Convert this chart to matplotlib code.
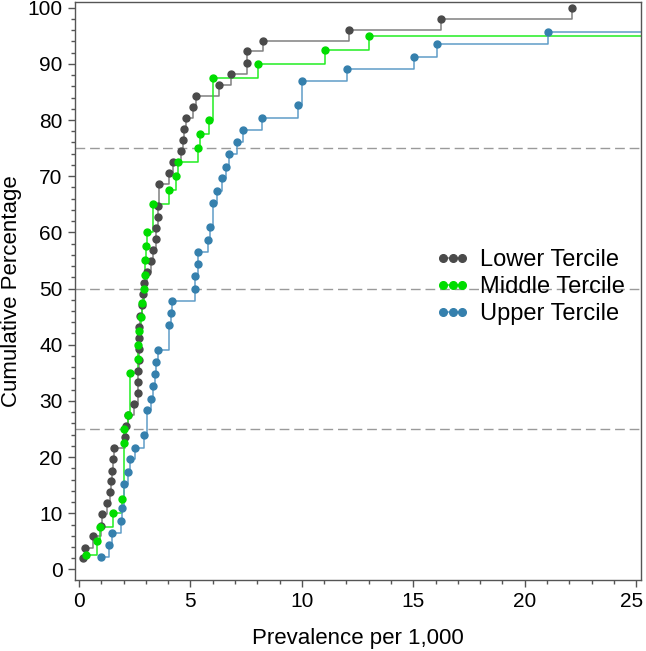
import matplotlib
matplotlib.use('Agg')
import matplotlib.pyplot as plt
from matplotlib.lines import Line2D
from matplotlib.ticker import MultipleLocator
from matplotlib.transforms import ScaledTranslation

plt.rcParams['font.family'] = ['Liberation Sans', 'DejaVu Sans']

# 数据：各三分位组的患病率（每千人）与累计百分比
lower_x = [0.19, 0.25, 0.61, 0.99, 1.02, 1.27, 1.40, 1.45, 1.46, 1.54,
           1.58, 2.07, 2.10, 2.18, 2.47, 2.63, 2.64, 2.66, 2.67, 2.68,
           2.69, 2.71, 2.74, 2.82, 2.85, 2.90, 3.04, 3.23, 3.31, 3.45,
           3.47, 3.53, 3.54, 3.60, 4.04, 4.20, 4.58, 4.65, 4.71, 4.82,
           5.13, 5.24, 6.28, 6.82, 7.54, 7.55, 8.27, 12.13, 16.23, 22.11]
lower_y = [2.0, 3.9, 5.9, 7.8, 9.8, 11.8, 13.7, 15.7, 17.6, 19.6,
           21.6, 23.5, 25.5, 27.5, 29.4, 31.4, 33.3, 35.3, 37.3, 39.2,
           41.2, 43.1, 45.1, 47.1, 49.0, 51.0, 52.9, 54.9, 56.9, 58.8,
           60.8, 62.7, 64.7, 68.6, 70.6, 72.5, 74.5, 76.5, 78.4, 80.4,
           82.4, 84.3, 86.3, 88.2, 90.2, 92.2, 94.1, 96.1, 98.0, 100.0]

middle_x = [0.31, 0.82, 0.96, 1.51, 1.92, 2.02, 2.03, 2.21, 2.29, 2.65,
            2.66, 2.68, 2.77, 2.83, 2.92, 2.96, 2.98, 3.00, 3.07, 3.32,
            4.03, 4.35, 4.42, 5.34, 5.43, 5.83, 6.03, 8.02, 11.04, 13.03]
middle_y = [2.5, 5.0, 7.5, 10.0, 12.5, 22.5, 25.0, 27.5, 35.0, 37.5,
            40.0, 42.5, 45.0, 47.5, 50.0, 52.5, 55.0, 57.5, 60.0, 65.0,
            67.5, 70.0, 72.5, 75.0, 77.5, 80.0, 87.5, 90.0, 92.5, 95.0]

upper_x = [1.00, 1.34, 1.50, 1.87, 1.92, 2.02, 2.21, 2.27, 2.50, 2.92,
           3.04, 3.22, 3.32, 3.43, 3.46, 3.53, 4.05, 4.13, 4.16, 5.21,
           5.22, 5.33, 5.34, 5.80, 5.88, 6.03, 6.21, 6.40, 6.58, 6.73,
           7.10, 7.37, 8.20, 9.84, 10.02, 12.03, 15.04, 16.05, 21.04]
upper_y = [2.2, 4.3, 6.5, 8.7, 10.9, 15.2, 17.4, 19.6, 21.7, 23.9,
           28.3, 30.4, 32.6, 34.8, 37.0, 39.1, 43.5, 45.7, 47.8, 50.0,
           52.2, 54.3, 56.5, 58.7, 60.9, 65.2, 67.4, 69.6, 71.7, 73.9,
           76.1, 78.3, 80.4, 82.6, 87.0, 89.1, 91.3, 93.5, 95.7]

ref_lines = [25, 50, 75]

series = [
    ('Lower Tercile', lower_x, lower_y, '#808080', '#4a4a4a', False),
    ('Middle Tercile', middle_x, middle_y, '#22ee22', '#00dd00', True),
    ('Upper Tercile', upper_x, upper_y, '#5f9dc8', '#3580ad', True),
]

fig = plt.figure(figsize=(6.46, 6.51), dpi=100)
ax = fig.add_axes([0.1161, 0.1091, 0.8762, 0.8878])

xmin, xmax = -0.18, 25.22
ax.set_xlim(xmin, xmax)
ax.set_ylim(-1.87, 101.0)

for y in ref_lines:
    ax.axhline(y, color='#9a9a9a', lw=1, ls=(0, (7, 3.5)), zorder=1)

handles = []
for name, xs, ys, lc, mc, extend in series:
    lx = list(xs)
    ly = list(ys)
    if extend:
        # 最后一级延伸到右边框
        lx.append(xmax + 1)
        ly.append(ys[-1])
    ax.plot(lx, ly, drawstyle='steps-post', color=lc, lw=1.1, zorder=2)
    ax.plot(xs, ys, ls='none', marker='o', ms=5, mfc=mc, mec=mc, zorder=3)
    handles.append(Line2D([], [], color=lc, lw=1.1, marker='o', ms=5.5,
                          mfc=mc, mec=mc, label=name))

ax.xaxis.set_major_locator(MultipleLocator(5))
ax.xaxis.set_minor_locator(MultipleLocator(1))
ax.yaxis.set_major_locator(MultipleLocator(10))
ax.yaxis.set_minor_locator(MultipleLocator(2))
ax.tick_params(which='major', length=5, width=1, color='#555555',
               labelsize=15, pad=4)
ax.tick_params(which='minor', length=3, width=1, color='#555555')

for s in ax.spines.values():
    s.set_color('#555555')
    s.set_linewidth(1)

ax.set_xlabel('Prevalence per 1,000', fontsize=16, labelpad=12)
ax.set_ylabel('Cumulative Percentage', fontsize=16, labelpad=4)

# 最右边的刻度标签 "25" 稍微左移，避免被图边裁掉
fig.canvas.draw()
for lab in ax.get_xticklabels():
    if lab.get_text() == '25':
        lab.set_transform(lab.get_transform() +
                          ScaledTranslation(-3 / 72, 0, fig.dpi_scale_trans))

fig.legend(handles=handles, loc='center left',
           bbox_to_anchor=(436 / 646, (651 - 287) / 651),
           frameon=False, fontsize=17, numpoints=3, handlelength=1.4,
           handletextpad=0.45, labelspacing=0.22, borderpad=0,
           borderaxespad=0)

fig.savefig('out.png', dpi=100)
